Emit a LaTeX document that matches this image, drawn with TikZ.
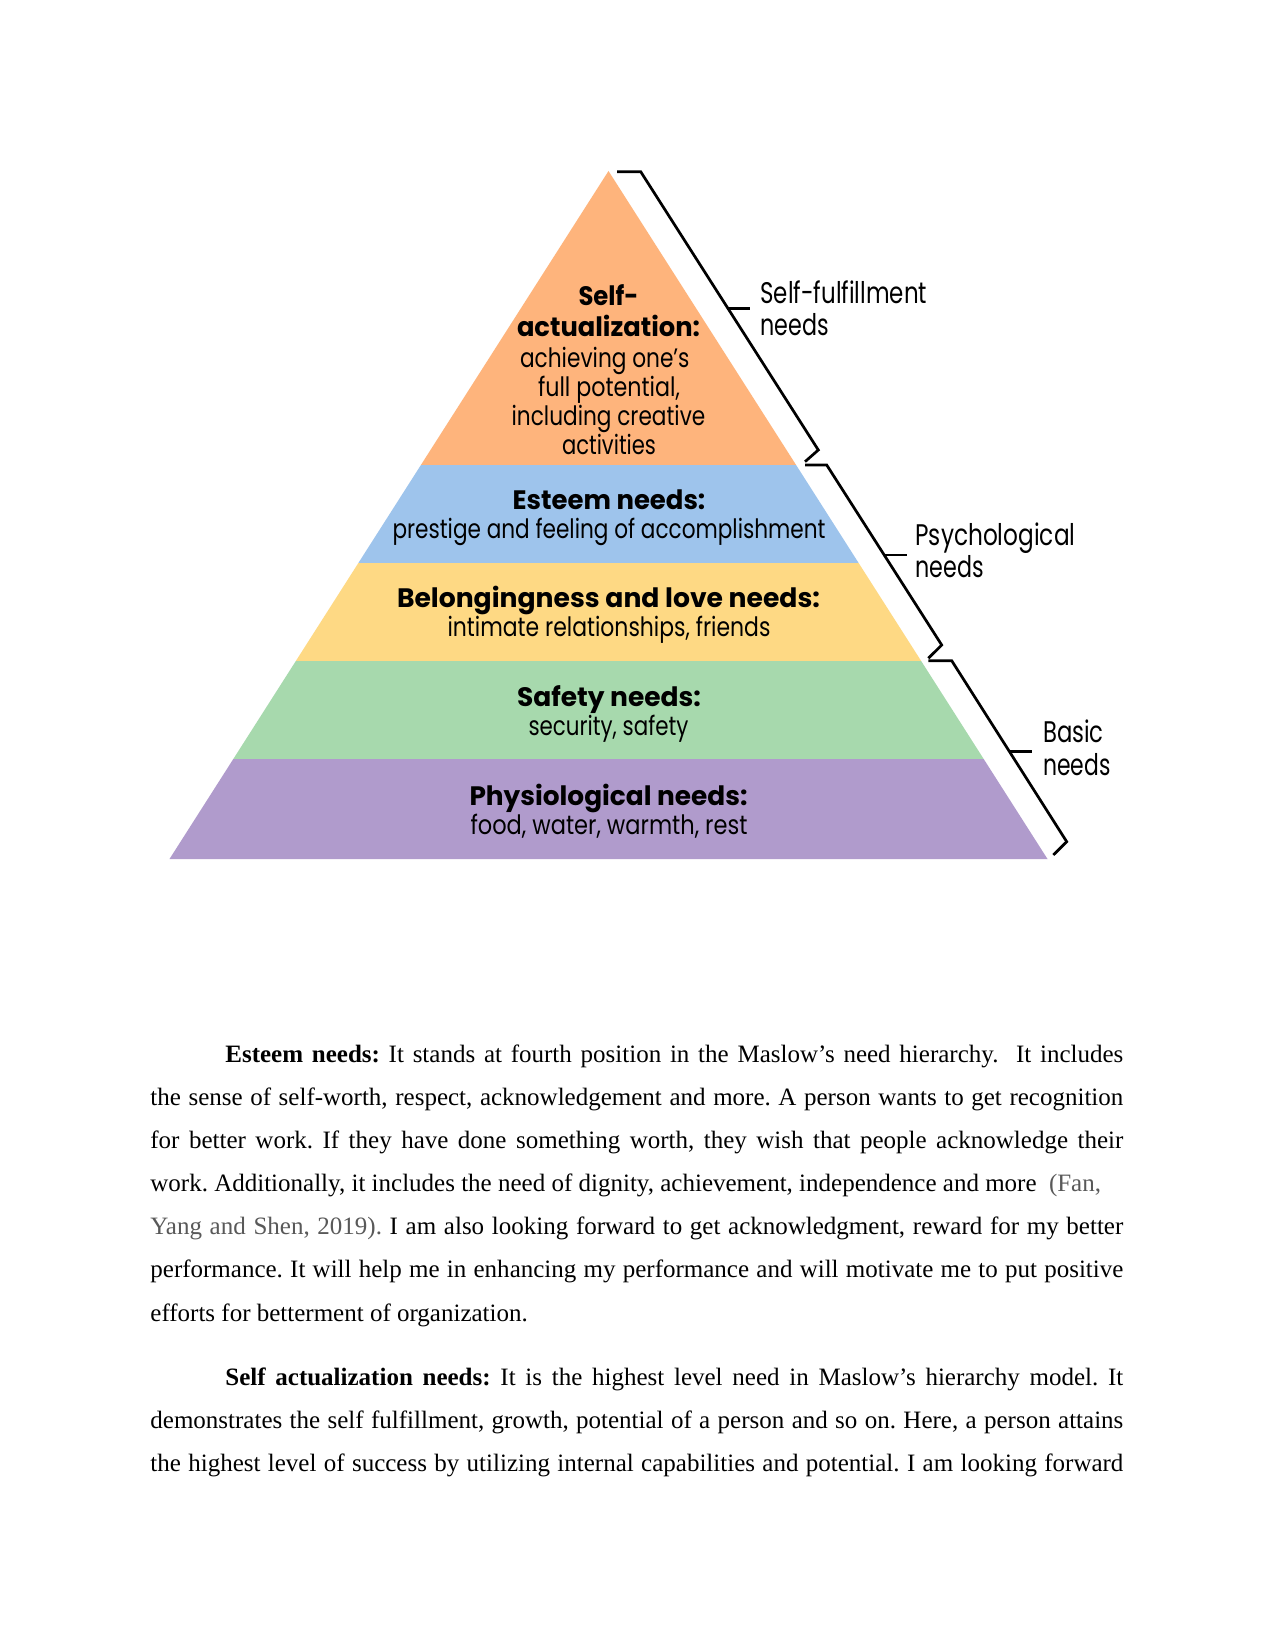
\documentclass[tikz,border=0pt]{standalone}
\usepackage{fontspec}
\setmainfont{Liberation Serif}
\newfontfamily\pyr{Poppins}
\usepackage{graphicx}
\frenchspacing
\newlength\tlen
\newcommand\fitx[2]{\settowidth\tlen{#2}\pgfmathsetmacro\rat{#1*0.48/\tlen}\scalebox{\rat}[1]{#2}}
\definecolor{cOr}{HTML}{FEB47C}
\definecolor{cBl}{HTML}{9EC4EC}
\definecolor{cYe}{HTML}{FED984}
\definecolor{cGr}{HTML}{A7D9AD}
\definecolor{cPu}{HTML}{B09BCC}
\definecolor{cite}{HTML}{595959}
\tikzset{
  ptxt/.style={font=\pyr\fontsize{12.8}{14}\selectfont, inner sep=0pt, anchor=base},
  pbold/.style={font=\pyr\bfseries\fontsize{12.8}{14}\selectfont, inner sep=0pt, anchor=base},
  lab/.style={font=\pyr\fontsize{14.3}{16}\selectfont, inner sep=0pt, anchor=base west},
  body/.style={font=\fontsize{12}{14}\selectfont\frenchspacing, inner sep=0pt, anchor=base west},
  brk/.style={line width=1.3pt, line join=miter, black}
}
\begin{document}
\begin{tikzpicture}[x=0.48pt,y=-0.48pt]
\useasboundingbox (0,0) rectangle (1275,1651);
\fill[white] (0,0) rectangle (1275,1651);
% pyramid
\coordinate (apex) at (608.5,171);
\coordinate (bl) at (169.5,859);
\coordinate (br) at (1047.5,859);
\begin{scope}
\clip (apex) -- (bl) -- (br) -- cycle;
\fill[cOr] (100,150) rectangle (1150,465);
\fill[cBl] (100,465) rectangle (1150,563);
\fill[cYe] (100,563) rectangle (1150,661);
\fill[cGr] (100,661) rectangle (1150,759);
\fill[cPu] (100,759) rectangle (1150,860);
\end{scope}
% pyramid texts
\node[pbold] (sa1) at (608.5,305) {\fitx{60}{Self-}};
\node[pbold] (sa2) at (608.5,336.7) {\fitx{183}{actualization:}};
\node[ptxt] (sa3) at (604.8,367.3) {\fitx{169.5}{achieving one’s}};
\node[ptxt] (sa4) at (609,396.7) {\fitx{142}{full potential,}};
\node[ptxt] (sa5) at (608.5,425) {\fitx{193.7}{including creative}};
\node[ptxt] (sa6) at (609,454) {\fitx{94}{activities}};
\node[pbold] (es1) at (609,509) {\fitx{192.7}{Esteem needs:}};
\node[ptxt] (es2) at (609,538) {\fitx{433}{prestige and feeling of accomplishment}};
\node[pbold] (be1) at (608.5,607) {\fitx{423}{Belongingness and love needs:}};
\node[ptxt] (be2) at (609,636) {\fitx{323}{intimate relationships, friends}};
\node[pbold] (sf1) at (609,706) {\fitx{184}{Safety needs:}};
\node[ptxt] (sf2) at (608.5,735) {\fitx{160}{security, safety}};
\node[pbold] (ph1) at (608.5,805) {\fitx{278}{Physiological needs:}};
\node[ptxt] (ph2) at (609,834) {\fitx{277}{food, water, warmth, rest}};
% brackets
\draw[brk] (617,171.7) -- (640.7,171.7) -- (818.3,450) -- (805,461.7);
\draw[brk] (728,308.3) -- (750,308.3);
\draw[brk] (805,465) -- (826.7,465) -- (941.7,645) -- (928.3,658.3);
\draw[brk] (884.5,555) -- (906.7,555);
\draw[brk] (928.3,660.7) -- (951.7,660.7) -- (1066.7,841.7) -- (1053.3,855);
\draw[brk] (1009.5,751.7) -- (1031.7,751.7);
% labels
\node[lab] (l1a) at (760,303.3) {\fitx{166.7}{Self-fulfillment}};
\node[lab] (l1b) at (760,335) {\fitx{68.3}{needs}};
\node[lab] (l2a) at (915,545) {\fitx{160}{Psychological}};
\node[lab] (l2b) at (915,577.3) {\fitx{68.3}{needs}};
\node[lab] (l3a) at (1042.7,742.7) {\fitx{60.6}{Basic}};
\node[lab] (l3b) at (1042.7,775) {\fitx{67.3}{needs}};
% body text
\node[body] (t1) at (225,1062) {\makebox[431pt][s]{\textbf{Esteem needs:} It stands at fourth position in the Maslow’s need hierarchy.\ \ It includes}};
\node[body] (t2) at (150,1105) {\makebox[467pt][s]{the sense of self-worth, respect, acknowledgement and more. A person wants to get recognition}};
\node[body] (t3) at (150,1148) {\makebox[467pt][s]{for better work. If they have done something worth, they wish that people acknowledge their}};
\node[body] (t4) at (150,1191) {work. Additionally, it includes the need of dignity, achievement, independence and more\ \ {\color{cite}(Fan,}};
\node[body] (t5) at (150,1234.5) {\makebox[467pt][s]{{\color{cite}Yang and Shen, 2019).} I am also looking forward to get acknowledgment, reward for my better}};
\node[body] (t6) at (150,1277.6) {\makebox[467pt][s]{performance. It will help me in enhancing my performance and will motivate me to put positive}};
\node[body] (t7) at (150,1321) {efforts for betterment of organization.};
\node[body] (t8) at (225,1385) {\makebox[431pt][s]{\textbf{Self actualization needs:} It is the highest level need in Maslow’s hierarchy model. It}};
\node[body] (t9) at (150,1428) {\makebox[467pt][s]{demonstrates the self fulfillment, growth, potential of a person and so on. Here, a person attains}};
\node[body] (t10) at (150,1471) {\makebox[467pt][s]{the highest level of success by utilizing internal capabilities and potential. I am looking forward}};
\end{tikzpicture}
\end{document}
